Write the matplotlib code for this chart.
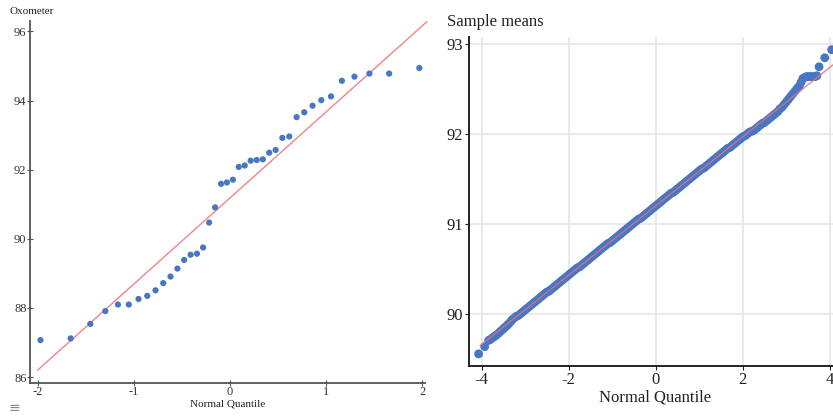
import matplotlib
matplotlib.use("Agg")
import matplotlib.pyplot as plt
import numpy as np

# ---------------- data ----------------
# Left panel: Oxometer readings vs normal quantiles (40 obs)
oxo_quantiles = [-1.971, -1.657, -1.452, -1.296, -1.165, -1.052, -0.951, -0.860, -0.774, -0.694,
                 -0.618, -0.546, -0.476, -0.409, -0.343, -0.279, -0.216, -0.154, -0.092, -0.031,
                 0.031, 0.092, 0.154, 0.216, 0.279, 0.343, 0.409, 0.476, 0.546, 0.618,
                 0.694, 0.774, 0.860, 0.951, 1.052, 1.165, 1.296, 1.452, 1.657, 1.971]
oxo_values = [87.07, 87.12, 87.54, 87.91, 88.10, 88.10, 88.26, 88.35, 88.51, 88.72,
              88.91, 89.14, 89.39, 89.54, 89.57, 89.75, 90.47, 90.91, 91.59, 91.63,
              91.71, 92.08, 92.12, 92.26, 92.28, 92.30, 92.49, 92.57, 92.92, 92.96,
              93.52, 93.66, 93.85, 94.01, 94.12, 94.57, 94.69, 94.78, 94.78, 94.94]

# Right panel: sample means vs normal quantiles (read along the dense band)
means_quantiles = [
    -4.07, -3.93, -3.84, -3.80, -3.75, -3.70, -3.66, -3.61, -3.57, -3.52,
    -3.48, -3.43, -3.39, -3.34, -3.30, -3.25,
    -3.20, -3.15, -3.10, -3.05, -3.00, -2.95, -2.90, -2.85, -2.80, -2.75,
    -2.70, -2.65, -2.60, -2.55, -2.50, -2.45, -2.40, -2.35, -2.30, -2.25,
    -2.20, -2.15, -2.10, -2.05, -2.00, -1.95, -1.90, -1.85, -1.80, -1.75,
    -1.70, -1.65, -1.60, -1.55, -1.50, -1.45, -1.40, -1.35, -1.30, -1.25,
    -1.20, -1.15, -1.10, -1.05, -1.00, -0.95, -0.90, -0.85, -0.80, -0.75,
    -0.70, -0.65, -0.60, -0.55, -0.50, -0.45, -0.40, -0.35, -0.30, -0.25,
    -0.20, -0.15, -0.10, -0.05, 0.00, 0.05, 0.10, 0.15, 0.20, 0.25,
    0.30, 0.35, 0.40, 0.45, 0.50, 0.55, 0.60, 0.65, 0.70, 0.75,
    0.80, 0.85, 0.90, 0.95, 1.00, 1.05, 1.10, 1.15, 1.20, 1.25,
    1.30, 1.35, 1.40, 1.45, 1.50, 1.55, 1.60, 1.65, 1.70, 1.75,
    1.80, 1.85, 1.90, 1.95, 2.00, 2.05, 2.10, 2.15, 2.20, 2.25,
    2.30, 2.35, 2.40, 2.45, 2.50, 2.55, 2.60, 2.65, 2.70, 2.75,
    2.80, 2.85, 2.90, 2.95, 3.00, 3.05, 3.10, 3.15, 3.20, 3.25,
    3.30, 3.34, 3.38, 3.42, 3.46, 3.50, 3.54, 3.58, 3.62, 3.66,
    3.70, 3.75, 3.88, 4.04]
means_values = [
    89.55, 89.63, 89.70, 89.71, 89.73, 89.745, 89.76, 89.78, 89.80, 89.82,
    89.84, 89.86, 89.88, 89.905, 89.93, 89.95,
    89.97, 89.98, 90.00, 90.02, 90.04, 90.06, 90.08, 90.10, 90.12, 90.14,
    90.16, 90.18, 90.20, 90.22, 90.24, 90.25, 90.27, 90.29, 90.31, 90.33,
    90.35, 90.37, 90.39, 90.41, 90.43, 90.45, 90.47, 90.49, 90.51, 90.52,
    90.54, 90.56, 90.58, 90.60, 90.62, 90.64, 90.66, 90.68, 90.70, 90.72,
    90.74, 90.76, 90.78, 90.79, 90.81, 90.83, 90.85, 90.87, 90.89, 90.91,
    90.93, 90.95, 90.97, 90.99, 91.01, 91.03, 91.05, 91.06, 91.08, 91.10,
    91.12, 91.14, 91.16, 91.18, 91.20, 91.22, 91.24, 91.26, 91.28, 91.30,
    91.32, 91.34, 91.35, 91.37, 91.39, 91.41, 91.43, 91.45, 91.47, 91.49,
    91.51, 91.53, 91.55, 91.57, 91.59, 91.61, 91.62, 91.64, 91.66, 91.68,
    91.70, 91.72, 91.74, 91.76, 91.78, 91.80, 91.82, 91.84, 91.85, 91.87,
    91.89, 91.91, 91.93, 91.95, 91.97, 91.98, 92.00, 92.02, 92.03, 92.04,
    92.06, 92.08, 92.10, 92.12, 92.13, 92.15, 92.17, 92.19, 92.21, 92.23,
    92.25, 92.28, 92.30, 92.33, 92.36, 92.39, 92.42, 92.45, 92.48, 92.51,
    92.54, 92.58, 92.62, 92.63, 92.64, 92.64, 92.64, 92.64, 92.64, 92.64,
    92.65, 92.75, 92.85, 92.94]
means_line_intercept = 91.20
means_line_slope = 0.386

left_xticks = [-2, -1, 0, 1, 2]
left_yticks = [86, 88, 90, 92, 94, 96]
right_xticks = [-4, -2, 0, 2, 4]
right_yticks = [90, 91, 92, 93]

# ---------------- style ----------------
W, H = 833, 417
SERIF = ["Liberation Serif", "DejaVu Serif"]
BLUE = "#4676c4"
RED = "#f08585"

plt.rcParams["font.family"] = SERIF

fig = plt.figure(figsize=(W / 100, H / 100), dpi=100)


def fx(px):
    return px / W


def fy(py):
    return 1 - py / H


# ---------------- left panel ----------------
axL = fig.add_axes([fx(30), fy(383), fx(425) - fx(30), fy(21) - fy(383)])
axL.set_xlim(-2.08, 2.03)
axL.set_ylim(85.83, 96.3)
q = np.array(oxo_quantiles)
v = np.array(oxo_values)
m, s = v.mean(), v.std(ddof=1)
ql = np.array([-2.0, 2.05])
axL.plot(ql, m + s * ql, color=RED, lw=1.0, zorder=2, clip_on=False)
axL.scatter(q, v, s=20, color=BLUE, edgecolors="none", zorder=3, clip_on=False)
for sp in ["top", "right"]:
    axL.spines[sp].set_visible(False)
for sp in ["left", "bottom"]:
    axL.spines[sp].set_color("#555555")
    axL.spines[sp].set_linewidth(1.3)
axL.set_xticks(left_xticks)
axL.set_xticklabels([str(t) for t in left_xticks])
axL.set_yticks(left_yticks)
axL.tick_params(axis="both", direction="inout", length=5, width=0.8, color="#555555",
                labelsize=9, labelcolor="#333333", pad=0)
fig.text(fx(9), fy(12), "Oxometer", fontsize=8, color="#222222", ha="left", va="center")
fig.text(fx(228), fy(404), "Normal Quantile", fontsize=8, color="#222222", ha="center", va="center")
fig.text(fx(14), fy(408), "\u2261", fontsize=10, color="#888888", ha="center", va="center",
         family=["DejaVu Sans"])

# ---------------- right panel ----------------
axR = fig.add_axes([fx(469), fy(366), fx(833) - fx(469), fy(36.7) - fy(366)])
axR.set_xlim(-4.29, 4.07)
axR.set_ylim(89.415, 93.085)
axR.grid(True, color="#e6e6e6", lw=1.2, zorder=0)
axR.set_axisbelow(True)
axR.scatter(means_quantiles, means_values, s=40, color=BLUE, edgecolors="none", zorder=3,
            clip_on=False)
qr = np.array([-4.03, 4.3])
axR.plot(qr, means_line_intercept + means_line_slope * qr, color="#e46f7c", lw=1.0, alpha=0.85,
         zorder=4)
for sp in ["top", "right"]:
    axR.spines[sp].set_visible(False)
for sp in ["left", "bottom"]:
    axR.spines[sp].set_color("#222222")
    axR.spines[sp].set_linewidth(1.4)
axR.set_xticks(right_xticks)
axR.set_xticklabels([str(t) for t in right_xticks])
axR.set_yticks(right_yticks)
axR.tick_params(axis="both", direction="out", length=3, width=0.8, color="#222222",
                labelsize=12, labelcolor="#222222", pad=1)
fig.text(fx(447), fy(22), "Sample means", fontsize=12, color="#222222", ha="left", va="center")
fig.text(fx(655), fy(397), "Normal Quantile", fontsize=12, color="#222222", ha="center", va="center")

fig.savefig("out.png", dpi=100)
